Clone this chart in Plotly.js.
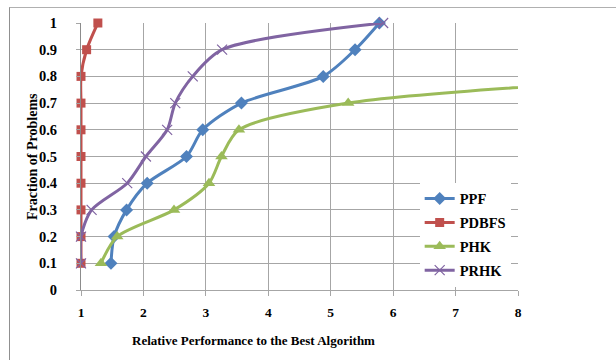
<!DOCTYPE html>
<html><head><meta charset="utf-8">
<script src="https://cdn.plot.ly/plotly-3.0.1.min.js"></script>
<style>
html,body{margin:0;padding:0;background:#fff;overflow:hidden}
#wrap{position:relative;width:616px;height:360px}
#frame{position:absolute;left:9px;top:7px;width:700px;height:400px;border-top:1px solid #b0b0b0;border-left:1px solid #909090;pointer-events:none}
#chart{position:absolute;left:0;top:0;width:616px;height:360px}
</style></head>
<body><div id="wrap"><div id="chart"></div><div id="frame"></div></div>
<script>
const fractions = [0.1,0.2,0.3,0.4,0.5,0.6,0.7,0.8,0.9,1.0];
const ppfX   = [1.48,1.53,1.73,2.06,2.69,2.95,3.57,4.88,5.39,5.78];
const pdbfsX = [1,1,1,1,1,1,1,1,1.09,1.27];
const phkX   = [1.32,1.58,2.49,3.05,3.25,3.53,5.28,10.8];
const phkY   = [0.1,0.2,0.3,0.4,0.5,0.6,0.7,0.8];
const prhkX  = [1,1,1.17,1.74,2.04,2.38,2.51,2.79,3.26,5.84];
const xTicks = [1,2,3,4,5,6,7,8];
const yTicks = [0,0.1,0.2,0.3,0.4,0.5,0.6,0.7,0.8,0.9,1];
const yTickText = ['0','0.1','0.2','0.3','0.4','0.5','0.6','0.7','0.8','0.9','1'];
const xTitle = 'Relative Performance to the Best Algorithm';
const yTitle = 'Fraction of Problems';

const serif = 'Liberation Serif, Times New Roman, serif';
function tr(name, x, y, color, symbol, size, mline){
  return {type:'scatter', mode:'lines+markers', name:name, x:x, y:y, legendgroup:name,
    line:{color:color, width:3, shape:'spline', smoothing:0.8},
    marker:{color:color, symbol:symbol, size:size, line: mline || {width:0}},
    cliponaxis:false};
}
const data = [
  tr('PPF', ppfX, fractions, '#4F81BD', 'diamond', 10),
  tr('PDBFS', pdbfsX, fractions, '#C0504D', 'square', 9),
  tr('PHK', phkX, phkY, '#9BBB59', 'triangle-up', 11),
  tr('PRHK', prhkX, fractions, '#8064A2', 'x-thin', 10, {width:1.2, color:'#8064A2'})
];
const layout = {
  width:616, height:360,
  margin:{l:81, r:98, t:23, b:70},
  paper_bgcolor:'rgba(0,0,0,0)', plot_bgcolor:'#fff',
  font:{family:serif, color:'#000', size:13},
  showlegend:true,
  legend:{x:0.775, y:0.402, xanchor:'left', yanchor:'top', bgcolor:'#fff', borderwidth:0,
    font:{family:serif, size:14.5, weight:'bold'}, tracegroupgap:2, traceorder:'grouped', itemwidth:30},
  xaxis:{range:[1,8], tickvals:xTicks, ticktext:xTicks.map(String), showgrid:true, gridcolor:'#a6a6a6', gridwidth:1,
    showline:true, linecolor:'#a6a6a6', linewidth:1, zeroline:false, ticks:'outside', ticklen:5, tickcolor:'#a6a6a6',
    ticklabelstandoff:5, tickfont:{family:serif, size:13.5, weight:'bold'}},
  yaxis:{range:[0,1], tickvals:yTicks, ticktext:yTickText, showgrid:true, gridcolor:'#a6a6a6', gridwidth:1,
    showline:true, linecolor:'#8c8c8c', linewidth:1, zeroline:false, ticks:'outside', ticklen:4, tickcolor:'#a6a6a6',
    ticklabelstandoff:16, tickfont:{family:serif, size:14.5, weight:'bold'}},
  annotations:[
    {xref:'paper', yref:'paper', x:0.394, y:-0.188, xanchor:'center', yanchor:'middle', showarrow:false,
      text:xTitle, font:{family:serif, size:13, weight:'bold'}},
    {xref:'paper', yref:'paper', x:-0.111, y:0.5, xanchor:'center', yanchor:'middle', showarrow:false, textangle:-90,
      text:yTitle, font:{family:serif, size:14, weight:'bold'}}
  ]
};
Plotly.newPlot('chart', data, layout, {displayModeBar:false, staticPlot:true});
</script></body></html>
